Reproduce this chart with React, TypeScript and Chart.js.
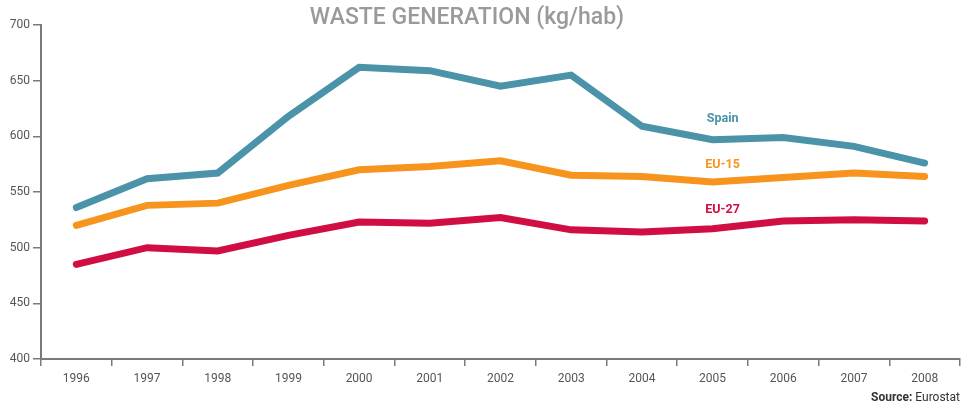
import React, { useEffect, useRef } from "react";
import { Chart, registerables } from "chart.js";

Chart.register(...registerables);

const years = ["1996", "1997", "1998", "1999", "2000", "2001", "2002", "2003", "2004", "2005", "2006", "2007", "2008"];
const spain = [536, 562, 567, 618, 662, 659, 645, 655, 609, 597, 599, 591, 576];
const eu15 = [520, 538, 540, 556, 570, 573, 578, 565, 564, 559, 563, 567, 564];
const eu27 = [485, 500, 497, 511, 523, 522, 527, 516, 514, 517, 524, 525, 524];
const seriesNames = ["Spain", "EU-15", "EU-27"];
const labelValues = [616, 574, 534];
const labelCategory = 9;
const yTicks = [400, 450, 500, 550, 600, 650, 700];
const titleText = "WASTE GENERATION (kg/hab)";
const sourceBold = "Source:";
const sourceText = " Eurostat";

const colors = ["#4a93a8", "#f7941e", "#d10e44"];
const FONT = "Roboto, 'DejaVu Sans', sans-serif";

const decorPlugin = {
  id: "decor",
  afterDatasetsDraw(chart: any) {
    const ctx = chart.ctx;
    const xs = chart.scales.x;
    const ys = chart.scales.y;
    const area = chart.chartArea;
    ctx.save();
    // series labels
    ctx.font = `bold 12.5px ${FONT}`;
    ctx.textAlign = "center";
    ctx.textBaseline = "middle";
    seriesNames.forEach((n, i) => {
      ctx.fillStyle = colors[i];
      ctx.fillText(n, xs.getPixelForValue(labelCategory) + 10, ys.getPixelForValue(labelValues[i]));
    });
    // title
    ctx.font = `500 23px ${FONT}`;
    ctx.fillStyle = "#9a9a9a";
    ctx.textAlign = "center";
    ctx.fillText(titleText, 467, 18);
    // source
    ctx.textAlign = "left";
    ctx.font = `12px ${FONT}`;
    const w2 = ctx.measureText(sourceText).width;
    ctx.font = `bold 12px ${FONT}`;
    const w1 = ctx.measureText(sourceBold).width;
    const xStart = area.right - w1 - w2;
    ctx.fillStyle = "#333333";
    ctx.fillText(sourceBold, xStart, 398);
    ctx.font = `12px ${FONT}`;
    ctx.fillText(sourceText, xStart + w1, 398);
    ctx.restore();
  },
};

export default function App() {
  const ref = useRef<HTMLCanvasElement | null>(null);
  useEffect(() => {
    document.body.style.margin = "0";
    const canvas = ref.current!;
    const chart = new Chart(canvas, {
      type: "line",
      data: {
        labels: years,
        datasets: [spain, eu15, eu27].map((d, i) => ({
          label: seriesNames[i],
          data: d,
          borderColor: colors[i],
          backgroundColor: colors[i],
          borderWidth: 7,
          pointRadius: 0,
          borderCapStyle: "round" as const,
          borderJoinStyle: "miter" as const,
          tension: 0,
        })),
      },
      options: {
        animation: false,
        responsive: false,
        maintainAspectRatio: false,
        layout: { padding: { left: 0, right: 4, top: 25, bottom: 0 } },
        plugins: { legend: { display: false }, title: { display: false }, tooltip: { enabled: false } },
        scales: {
          x: {
            offset: true,
            grid: { offset: true, drawOnChartArea: false, drawTicks: true, tickLength: 7, color: "#7a7a7a", lineWidth: 1.5 },
            border: { display: true, color: "#7a7a7a", width: 2 },
            ticks: { color: "#555555", font: { family: FONT, size: 12 }, padding: 6, maxRotation: 0, autoSkip: false },
            afterFit(scale: any) { scale.height = 50; },
          },
          y: {
            min: 400,
            max: 700,
            afterBuildTicks(scale: any) { scale.ticks = yTicks.map((v) => ({ value: v })); },
            grid: { drawOnChartArea: false, drawTicks: true, tickLength: 8, color: "#7a7a7a", lineWidth: 1.5 },
            border: { display: true, color: "#7a7a7a", width: 2 },
            ticks: { color: "#555555", font: { family: FONT, size: 12 }, padding: 3 },
            afterFit(scale: any) { scale.width = 41; },
          },
        },
      },
      plugins: [decorPlugin],
    });
    return () => chart.destroy();
  }, []);
  return <canvas ref={ref} width={964} height={409} style={{ display: "block" }} />;
}
